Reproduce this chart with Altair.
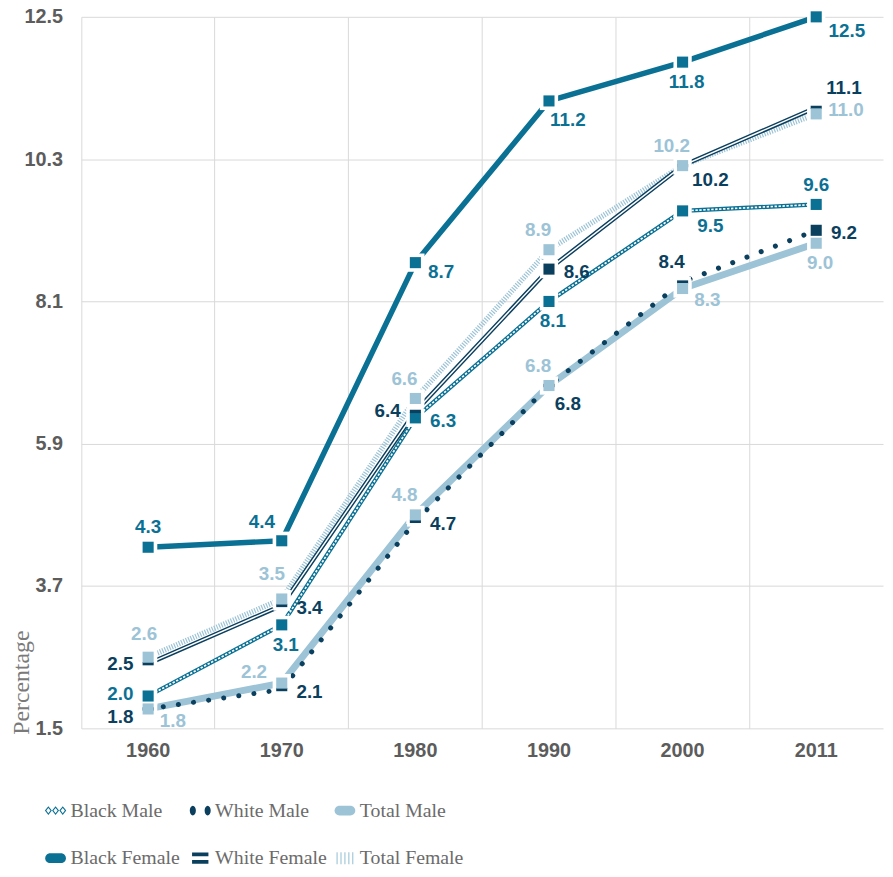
import altair as alt
import pandas as pd

# ---------------- data ----------------
YEARS = ["1960", "1970", "1980", "1990", "2000", "2011"]
SERIES = ["Black Male", "White Male", "Total Male",
          "Black Female", "White Female", "Total Female"]

BLACK_MALE = [2.0, 3.1, 6.3, 8.1, 9.5, 9.6]
WHITE_MALE = [1.8, 2.1, 4.7, 6.8, 8.4, 9.2]
TOTAL_MALE = [1.8, 2.2, 4.8, 6.8, 8.3, 9.0]
BLACK_FEMALE = [4.3, 4.4, 8.7, 11.2, 11.8, 12.5]
WHITE_FEMALE = [2.5, 3.4, 6.4, 8.6, 10.2, 11.1]
TOTAL_FEMALE = [2.6, 3.5, 6.6, 8.9, 10.2, 11.0]

Y_TICKS = [1.5, 3.7, 5.9, 8.1, 10.3, 12.5]

VALUES = {
    "Black Male": BLACK_MALE, "White Male": WHITE_MALE, "Total Male": TOTAL_MALE,
    "Black Female": BLACK_FEMALE, "White Female": WHITE_FEMALE, "Total Female": TOTAL_FEMALE,
}

# ---------------- style ----------------
TEAL = "#0b7194"
NAVY = "#0b3f5e"
LIGHT = "#9cc3d6"
COLORS = [TEAL, NAVY, LIGHT, TEAL, NAVY, LIGHT]
GRID = "#d9d9d9"
AXIS_TXT = "#5c5c5c"

MARKERS = {
    "Black Female": ["square"] * 6,
    "Black Male": ["square"] * 6,
    "White Male": ["dash", "dash", "dash", "dash", "dash", "square"],
    "White Female": ["dash", "dash", "dash", "square", "dash", "dash"],
    "Total Male": ["square"] * 6,
    "Total Female": ["square"] * 6,
}

LABEL_PLACE = {
    "Black Female": ["A", "AL2", "RD", "BR", "B", "RD2"],
    "Black Male": ["L2", "B", "R", "B", "BR3", "A"],
    "White Male": ["LD", "R", "R", "BR", "AL", "R"],
    "White Female": ["L", "R", "L", "R", "BR3", "RU2"],
    "Total Male": ["BR2", "UL", "AL", "AL", "BR2", "B"],
    "Total Female": ["A2", "AL3", "AL", "AL", "AL", "R0"],
}
OFFSETS = {
    "A": (0, -20), "A2": (-4, -23), "AL": (-11, -20), "AL2": (-20, -19),
    "AL3": (-10, -25), "L": (-28, 0), "L2": (-28, -2), "LD": (-28, 8),
    "R": (28, 3), "RU2": (28, -20), "R0": (30, -4), "RD": (26, 9),
    "RD2": (31, 14), "B": (4, 20), "BR": (19, 19), "BR2": (25, 12),
    "BR3": (28, 15), "UL": (-28, -11),
}

DRAW_ORDER = ["Black Female", "Black Male", "White Male", "White Female",
              "Total Male", "Total Female"]

LINE_STYLES = [
    ("Total Male", [dict(color=LIGHT, strokeWidth=7)]),
    ("Total Female", [dict(color=LIGHT, strokeWidth=5.5, strokeDash=[1.2, 1.4])]),
    ("White Female", [dict(color=NAVY, strokeWidth=4.4),
                      dict(color="white", strokeWidth=1.5)]),
    ("Black Male", [dict(color=TEAL, strokeWidth=4.2),
                    dict(color="white", strokeWidth=1.7, strokeDash=[2.4, 1.6])]),
    ("White Male", [dict(color=NAVY, strokeWidth=5, strokeDash=[0.1, 15.3],
                         strokeCap="round")]),
    ("Black Female", [dict(color=TEAL, strokeWidth=5.5)]),
]

SHAPE_DOMAIN = ["square", "dash", "square_halo", "dash_halo"]
SHAPE_RANGE = [
    "M-1,-1H1V1H-1Z",
    "M-1,-0.3H1V0.3H-1Z",
    "M-1.65,-1.65H1.65V1.65H-1.65Z",
    "M-1.5,-0.95H1.5V0.95H-1.5Z",
]


def _diamonds():
    p = ""
    for cx in (-0.66, 0.0, 0.66):
        p += f"M{cx-0.32:.3f},0L{cx:.3f},-0.4L{cx+0.32:.3f},0L{cx:.3f},0.4Z"
        p += f"M{cx-0.19:.3f},0L{cx:.3f},0.24L{cx+0.19:.3f},0L{cx:.3f},-0.24Z"
    return p


def _dots():
    p = ""
    rx, ry = 0.28, 0.45
    for cx in (-0.68, 0.68):
        p += (f"M{cx-rx:.3f},0A{rx},{ry} 0 1 0 {cx+rx:.3f},0"
              f"A{rx},{ry} 0 1 0 {cx-rx:.3f},0Z")
    return p


BAR = "M-0.5,-0.45L0.5,-0.45A0.45,0.45 0 0 1 0.5,0.45L-0.5,0.45A0.45,0.45 0 0 1 -0.5,-0.45Z"
DOUBLE = "M-0.75,-0.52H0.75V-0.17H-0.75ZM-0.75,0.17H0.75V0.52H-0.75Z"
HATCH = "".join(f"M{cx-0.05:.3f},-0.55H{cx+0.05:.3f}V0.55H{cx-0.05:.3f}Z"
                for cx in (-0.72, -0.36, 0.0, 0.36, 0.72))
LEGEND_PATHS = [_diamonds(), _dots(), BAR, BAR, DOUBLE, HATCH]

W, H = 809, 718

# ---------------- tables ----------------
rows = []
for s in DRAW_ORDER:
    for i, y in enumerate(YEARS):
        rows.append(dict(series=s, year=y, value=VALUES[s][i],
                         marker=MARKERS[s][i], place=LABEL_PLACE[s][i]))
df = pd.DataFrame(rows)

legend_df = pd.DataFrame([dict(series=s, col=i % 3, row=i // 3)
                          for i, s in enumerate(SERIES)])

# ---------------- encodings ----------------
X = alt.X("year:O", bandPosition=0.5,
          scale=alt.Scale(type="band", domain=YEARS, paddingInner=0, paddingOuter=0),
          axis=alt.Axis(title=None, bandPosition=0, grid=True,
                        gridColor=GRID, gridWidth=1, ticks=False, tickSize=0,
                        domain=False, labelAngle=0, labelPadding=12,
                        labelFont="Liberation Sans", labelFontSize=20,
                        labelFontWeight="bold", labelColor=AXIS_TXT))
Y = alt.Y("value:Q",
          scale=alt.Scale(domain=[1.5, 12.5], nice=False, zero=False),
          axis=alt.Axis(values=Y_TICKS, format=".1f", title="Percentage",
                        titleFont="Liberation Serif", titleFontSize=24,
                        titleFontWeight="normal", titleColor="#7a7a7a",
                        titleAngle=270, titleAlign="left", titleBaseline="top",
                        titleX=-72, titleY=724,
                        grid=True, gridColor=GRID, gridWidth=1, ticks=False,
                        tickSize=0, domain=False, labelPadding=19,
                        labelFont="Liberation Sans", labelFontSize=20,
                        labelFontWeight="bold", labelColor=AXIS_TXT))
COLOR = alt.Color("series:N", scale=alt.Scale(domain=SERIES, range=COLORS), legend=None)

base = alt.Chart(df).encode(x=X, y=Y)

layers = []
for s, styles in LINE_STYLES:
    for st in styles:
        layers.append(base.transform_filter(alt.datum.series == s).mark_line(**st))

layers.append(
    base.transform_calculate(halo="datum.marker + '_halo'")
    .mark_point(filled=True, color="white", opacity=1, size=125, strokeWidth=0)
    .encode(shape=alt.Shape("halo:N", scale=alt.Scale(domain=SHAPE_DOMAIN, range=SHAPE_RANGE),
                            legend=None))
)
layers.append(
    base.mark_point(filled=True, opacity=1, size=125, strokeWidth=0)
    .encode(shape=alt.Shape("marker:N", scale=alt.Scale(domain=SHAPE_DOMAIN, range=SHAPE_RANGE),
                            legend=None),
            color=COLOR)
)
for code, (dx, dy) in OFFSETS.items():
    layers.append(
        base.transform_filter(alt.datum.place == code)
        .mark_text(dx=dx, dy=dy, align="center", baseline="middle",
                   font="Liberation Sans", fontSize=19, fontWeight="bold")
        .encode(text=alt.Text("value:Q", format=".1f"), color=COLOR)
    )

main = alt.layer(*layers)

# ---------------- legend ----------------
LX = alt.X("col:Q", scale=alt.Scale(domain=[0, 2], range=[-26, 266], nice=False, zero=False),
           axis=None)
LY = alt.Y("row:Q", scale=alt.Scale(domain=[0, 1], range=[801, 849], nice=False, zero=False),
           axis=None)
lbase = alt.Chart(legend_df).encode(x=LX, y=LY)
leg_sym = lbase.mark_point(filled=True, opacity=1, size=484, strokeWidth=0).encode(
    shape=alt.Shape("series:N", scale=alt.Scale(domain=SERIES, range=LEGEND_PATHS), legend=None),
    color=alt.Color("series:N", scale=alt.Scale(domain=SERIES, range=COLORS), legend=None),
)
leg_txt = lbase.mark_text(align="left", baseline="middle", dx=15,
                          font="Liberation Serif", fontSize=20, color="#6b6b6b").encode(
    text="series:N")
legend = alt.layer(leg_sym, leg_txt)

chart = (
    alt.layer(main, legend)
    .resolve_scale(x="independent", y="independent", shape="independent", color="independent")
    .properties(width=W, height=H,
                padding={"left": 74, "top": 5, "right": 2, "bottom": 138},
                autosize=alt.AutoSizeParams(type="none"))
    .configure_view(strokeWidth=0)
)

chart.save("out.html", embed_options={"renderer": "svg", "actions": False})
